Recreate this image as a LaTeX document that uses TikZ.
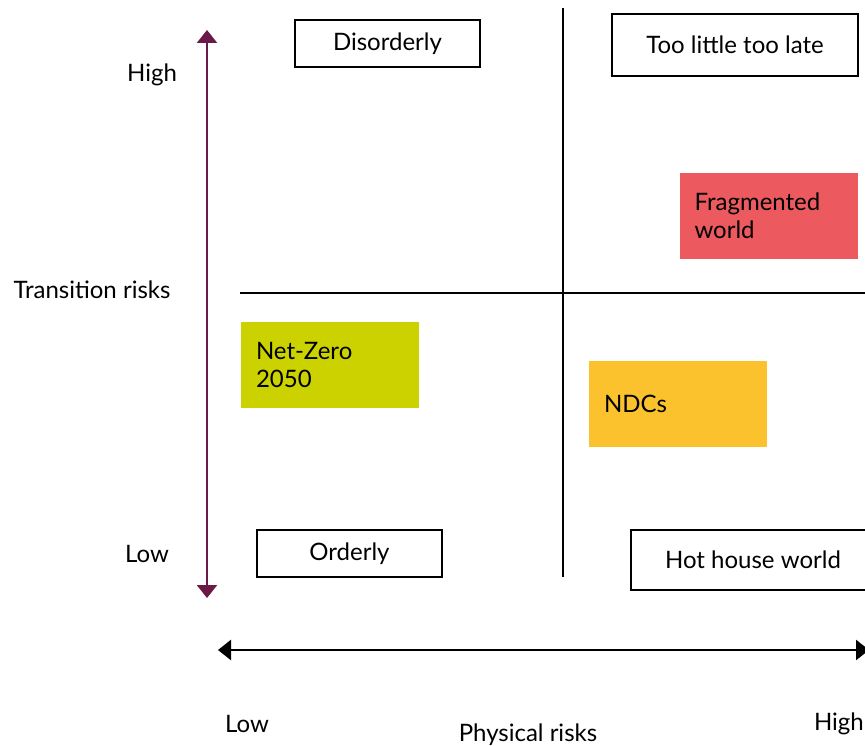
\documentclass[tikz,border=0pt]{standalone}
\usepackage{fontspec}
\setmainfont{Lato}
\usepackage{xcolor}
\usetikzlibrary{arrows.meta,positioning}

\definecolor{riskred}{HTML}{EC5A60}
\definecolor{riskgreen}{HTML}{CCD200}
\definecolor{riskamber}{HTML}{FCC22D}
\definecolor{riskplum}{HTML}{6B1A47}

\begin{document}
\begin{tikzpicture}[x=1pt, y=-1pt,
  font=\fontsize{24}{28}\selectfont,
  box/.style={draw, line width=1.2pt, align=center, inner sep=0pt, minimum height=47pt},
  patch/.style={align=left, inner sep=15pt, text width=148pt, minimum height=86pt},
  arr/.style={{Triangle[width=20pt,length=13pt]}-{Triangle[width=20pt,length=13pt]}, line width=2.6pt}
]
\clip (0,0) rectangle (865,746);
\useasboundingbox (0,0) rectangle (865,746);

% scenario boxes
\node[box, minimum width=185pt] at (387.5,43.5) (disorderly) {Disorderly};
\node[box, minimum width=246pt, minimum height=62pt] at (735,45) (toolate) {Too little too late};
\node[box, minimum width=185pt] at (349.5,553.5) (orderly) {Orderly};
\node[box, minimum width=244pt, minimum height=60pt] at (753,560) (hothouse) {Hot house world};
\node[patch, fill=riskred] at (768.5,216) (fragmented) {Fragmented\\world};
\node[patch, fill=riskgreen] at (330,365) (netzero) {Net-Zero\\2050};
\node[patch, fill=riskamber] at (678,404) (ndcs) {NDCs};

% axis labels
\node at (152,75) (thigh) {High};
\node at (92,290) (trisks) {Transition risks};
\node at (147,554) (tlow) {Low};
\node at (247,724) (plow) {Low};
\node at (528,735) (prisks) {Physical risks};
\node[anchor=east, inner sep=1pt] at (865,724) (phigh) {High};

% quadrant lines
\coordinate (vtop) at (563,8);
\coordinate (vbot) at (563,577);
\coordinate (hleft) at (240,293);
\coordinate (hright) at (865,293);
\draw[line width=1.3pt] (vtop) -- (vbot);
\draw[line width=1.3pt] (hleft) -- (hright);

% axes
\coordinate (ytop) at (207,30);
\coordinate (ybot) at (207,598);
\coordinate (xleft) at (218,650);
\coordinate (xright) at (869,650);
\draw[arr, riskplum] (ybot) -- (ytop);
\draw[arr] (xleft) -- (xright);
\end{tikzpicture}
\end{document}
